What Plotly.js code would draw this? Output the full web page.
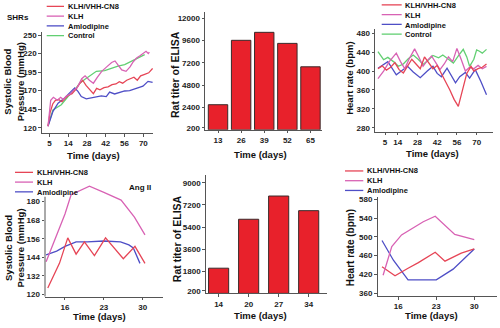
<!DOCTYPE html>
<html>
<head>
<meta charset="utf-8">
<script src="https://cdn.plot.ly/plotly-3.0.1.min.js"></script>
<style>html,body{margin:0;padding:0;background:#fff;}#chart{width:500px;height:328px;}</style>
</head>
<body>
<div id="chart"></div>
<script>
// ---------- series names / colours ----------
const seriesNames = ['KLH/VHH-CN8', 'KLH', 'Amlodipine', 'Control'];
const seriesColors = ['#e64556', '#d862b4', '#4e4ec6', '#62cf72'];

// ---------- Panel 1: SHRs systolic blood pressure (axis positions) ----------
const shrSbpXTickVals = [0, 14, 28, 42, 56, 70];
const shrSbpXTickText = ['5', '14', '28', '42', '56', '70'];
const shrSbpYTickVals = [120, 145, 170, 195, 220, 245];
const shrSbpYTickText = ['120', '145', '170', '195', '220', '250'];
const shrSbpCn8X = [-1, 0.5, 2.5, 4.5, 6.9, 9.4, 11.9, 14.4, 16.9, 19.9, 22.8, 24.8, 27.3, 29.8, 32.8, 35.2, 37.7, 40.7, 43.7, 46.7, 49.6, 52.1, 54.6, 57.6, 60.6, 63, 65.5, 68, 71, 74, 76.9];
const shrSbpCn8Y = [122, 140, 152, 157, 158, 155, 160, 164, 166, 172, 180, 184, 177, 172, 166, 173, 171, 174, 175, 178, 179, 182, 180, 184, 186, 188, 184, 190, 192, 194, 200];
const shrSbpKlhX = [-1, 1, 3, 6, 8.4, 10.4, 12.9, 15.4, 18.4, 20.8, 24.1, 26.6, 29.8, 32.8, 35.7, 39, 42.7, 46.4, 48.9, 51.4, 53.9, 57.1, 60.1, 62.5, 65, 67.5, 70, 72, 73.7, 74.5];
const shrSbpKlhY = [122, 157, 161, 157, 161, 158, 163, 165, 171, 174, 186, 190, 184, 180, 188, 196, 202, 208, 210, 204, 198, 196, 202, 209, 214, 217, 221, 223, 220, 222];
const shrSbpAmlX = [-1, 2.7, 6.5, 11.4, 15.1, 18.9, 21.3, 23.8, 27.5, 31.3, 35, 38.7, 42.4, 44.9, 48.6, 52.4, 56.1, 59.8, 63.5, 67.3, 69.7, 73.5, 76.9];
const shrSbpAmlY = [122, 142, 153, 160, 167, 173.5, 169, 162, 159, 160.5, 161, 163, 162, 168, 165.5, 168, 169.5, 170, 172.5, 174.5, 176, 182.5, 181];
const shrSbpCtlX = [-1, 2.7, 8.9, 13.9, 18.9, 22.6, 26.3, 31.3, 35, 41.2, 46.2, 51.1, 56.1, 61.1, 66, 71];
const shrSbpCtlY = [123, 144, 151, 162, 171, 180, 185, 191.5, 196, 197, 200.5, 203, 205, 209.5, 214, 218.5];

// ---------- Panel 2: SHRs ELISA titer ----------
const shrTiterDays = ['13', '26', '39', '52', '65'];
const shrTiter = [2700, 9630, 10490, 9300, 6780];
const shrTiterTickVals = [200, 2400, 4800, 7200, 9600, 12000];
const shrTiterTickText = ['200', '2400', '4800', '7200', '9600', '12000'];

// ---------- Panel 3: SHRs heart rate ----------
const shrHrXTickVals = [5, 14, 28, 42, 56, 70];
const shrHrYTickVals = [280, 320, 360, 400, 440, 480];
const shrHrCn8X = [0, 3, 6, 9, 12, 15, 18, 21, 24, 27, 30, 33, 36, 39, 42, 45, 48, 51, 54, 57, 60, 63, 66, 68, 71, 74, 77];
const shrHrCn8Y = [405, 411, 402, 408, 418, 403, 396, 412, 425, 415, 405, 430, 418, 405, 412, 395, 380, 360, 340, 325, 360, 395, 410, 400, 405, 408, 415];
const shrHrKlhX = [0, 4, 8, 13, 16, 19, 22, 26, 29, 32, 35, 38, 41, 44, 47, 50, 53, 56, 59, 62, 65, 68, 71, 74, 77];
const shrHrKlhY = [384, 400, 420, 438, 420, 405, 425, 447, 430, 410, 422, 432, 418, 403, 415, 430, 420, 448, 425, 400, 408, 405, 412, 405, 410];
const shrHrAmlX = [0, 7, 13, 17, 21, 25, 30, 35, 39, 42, 45, 49, 52, 55, 58, 62, 65, 69, 73, 77];
const shrHrAmlY = [406, 420, 392, 402, 410, 398, 386, 400, 410, 395, 388, 406, 390, 375, 388, 397, 385, 403, 378, 350];
const shrHrCtlX = [0, 4, 7, 11, 14.5, 18, 21.5, 25, 28.5, 32, 36, 39, 43, 46, 50, 53.5, 57, 60.5, 63, 65, 68, 70, 72, 74, 77];
const shrHrCtlY = [441, 424, 429, 420, 410, 415, 426, 434, 425, 414, 424, 433, 428, 434, 425, 417, 432, 446, 430, 410, 425, 445, 442, 438, 446];

// ---------- Panel 4: Ang II systolic blood pressure ----------
const angSbpXTickVals = [16, 23, 30];
const angSbpYTickVals = [120, 132, 144, 156, 168, 180];
const angSbpCn8X = [12.9, 15, 16.5, 18, 19.5, 21.3, 23.3, 24.8, 26.5, 28.6, 30.4];
const angSbpCn8Y = [124, 140, 156.5, 146, 154, 145, 156.5, 150, 143, 151, 140];
const angSbpKlhX = [12.6, 16, 17.1, 20.4, 23, 26.1, 28.5, 30.4];
const angSbpKlhY = [141, 172, 184.5, 190, 186, 181, 170, 158.5];
const angSbpAmlX = [12.6, 14.5, 16, 18, 20, 23, 26, 27.5, 28.3, 29.5];
const angSbpAmlY = [145.5, 148, 151, 154, 154, 154.5, 154, 152, 150, 140];

// ---------- Panel 5: Ang II ELISA titer ----------
const angTiterDays = ['14', '20', '27', '34'];
const angTiter = [2050, 6030, 7920, 6730];
const angTiterTickVals = [200, 1800, 3600, 5400, 7200, 9000];
const angTiterTickText = ['200', '1800', '3600', '5400', '7200', '9000'];

// ---------- Panel 6: Ang II heart rate ----------
const angHrXTickVals = [16, 23, 30];
const angHrYTickVals = [380, 420, 460, 500, 540, 580];
const angHrYTickText = ['360', '420', '460', '500', '540', '580'];
const angHrCn8X = [13, 15.4, 17.8, 19.7, 22.8, 24.6, 27.6, 30];
const angHrCn8Y = [436, 417, 433, 445, 467, 448, 465, 474];
const angHrKlhX = [13.2, 14.8, 16.6, 20.6, 22.8, 26.4, 30];
const angHrKlhY = [418, 479, 504, 532, 544, 505, 494];
const angHrAmlX = [13, 15.1, 17.8, 23, 26.1, 30];
const angHrAmlY = [492, 450, 408, 408, 431, 474];

// ---------- titles ----------
const xTitleText = 'Time (days)';
const sbpTitleText = 'Systolic Blood<br>Pressure (mmHg)';
const titerTitleText = 'Rat titer of ELISA';
const hrTitleText = 'Heart rate (bpm)';

// ---------- helpers ----------
const W = 500, H = 328;
const FONT = 'Liberation Sans, Arial, sans-serif';
const dxp = (a, b) => [a / W, b / W];
const dyp = (top, bottom) => [1 - bottom / H, 1 - top / H];
const px = v => v / W;
const py = v => 1 - v / H;

function line(x, y, idx, xa, ya) {
  return {type: 'scatter', mode: 'lines', x: x, y: y, name: seriesNames[idx],
    xaxis: xa, yaxis: ya, showlegend: false,
    line: {color: seriesColors[idx], width: 1.3}, hoverinfo: 'skip'};
}
function bars(x, y, xa, ya, w) {
  return {type: 'bar', x: x, y: y, xaxis: xa, yaxis: ya, showlegend: false, width: w,
    marker: {color: '#e8212b', line: {color: '#3a2a2a', width: 1}}, hoverinfo: 'skip'};
}

const traces = [
  line(shrSbpCtlX, shrSbpCtlY, 3, 'x', 'y'),
  line(shrSbpAmlX, shrSbpAmlY, 2, 'x', 'y'),
  line(shrSbpCn8X, shrSbpCn8Y, 0, 'x', 'y'),
  line(shrSbpKlhX, shrSbpKlhY, 1, 'x', 'y'),
  bars(shrTiterDays, shrTiter, 'x2', 'y2', 0.84),
  line(shrHrCtlX, shrHrCtlY, 3, 'x3', 'y3'),
  line(shrHrAmlX, shrHrAmlY, 2, 'x3', 'y3'),
  line(shrHrKlhX, shrHrKlhY, 1, 'x3', 'y3'),
  line(shrHrCn8X, shrHrCn8Y, 0, 'x3', 'y3'),
  line(angSbpAmlX, angSbpAmlY, 2, 'x4', 'y4'),
  line(angSbpCn8X, angSbpCn8Y, 0, 'x4', 'y4'),
  line(angSbpKlhX, angSbpKlhY, 1, 'x4', 'y4'),
  bars(angTiterDays, angTiter, 'x5', 'y5', 0.67),
  line(angHrAmlX, angHrAmlY, 2, 'x6', 'y6'),
  line(angHrCn8X, angHrCn8Y, 0, 'x6', 'y6'),
  line(angHrKlhX, angHrKlhY, 1, 'x6', 'y6')
];

const tickFont = {family: FONT, size: 8, color: '#222', weight: 'bold'};
function ax(extra) {
  return Object.assign({
    showline: true, linecolor: '#555', linewidth: 1, mirror: false,
    ticks: 'outside', ticklen: 2.5, tickcolor: '#555', tickwidth: 1,
    showgrid: false, zeroline: false, tickfont: tickFont, fixedrange: true,
    automargin: false
  }, extra);
}

const layout = {
  width: W, height: H,
  margin: {l: 0, r: 0, t: 0, b: 0},
  paper_bgcolor: '#fff', plot_bgcolor: '#fff',
  showlegend: false,
  xaxis: ax({domain: dxp(41.7, 153), range: [-5.7, 77.2], tickmode: 'array', tickvals: shrSbpXTickVals, ticktext: shrSbpXTickText, anchor: 'y'}),
  yaxis: ax({domain: dyp(31.7, 133.3), range: [112.45, 249.45], tickmode: 'array', tickvals: shrSbpYTickVals, ticktext: shrSbpYTickText, anchor: 'x'}),
  xaxis2: ax({domain: dxp(205, 321.8), type: 'category', range: [-0.563, 4.49], anchor: 'y2'}),
  yaxis2: ax({domain: dyp(11.7, 129.8), range: [0, 12710], tickmode: 'array', tickvals: shrTiterTickVals, ticktext: shrTiterTickText, anchor: 'x2'}),
  xaxis3: ax({domain: dxp(375, 493), range: [-2.1, 81.6], tickmode: 'array', tickvals: shrHrXTickVals, anchor: 'y3'}),
  yaxis3: ax({domain: dyp(29.3, 131.7), range: [271.5, 488.5], tickmode: 'array', tickvals: shrHrYTickVals, anchor: 'x3'}),
  xaxis4: ax({domain: dxp(45, 163.3), range: [12.4, 33.7], tickmode: 'array', tickvals: angSbpXTickVals, anchor: 'y4'}),
  yaxis4: ax({domain: dyp(184.7, 296.7), range: [118.4, 191], tickmode: 'array', tickvals: angSbpYTickVals, anchor: 'x4', showline: false}),
  xaxis5: ax({domain: dxp(205.7, 326.7), type: 'category', range: [-0.43, 3.6], anchor: 'y5'}),
  yaxis5: ax({domain: dyp(175, 293.4), range: [0, 9630], tickmode: 'array', tickvals: angTiterTickVals, ticktext: angTiterTickText, anchor: 'x5'}),
  xaxis6: ax({domain: dxp(377.5, 496.7), range: [12.17, 34.13], tickmode: 'array', tickvals: angHrXTickVals, anchor: 'y6'}),
  yaxis6: ax({domain: dyp(196.7, 296), range: [373.7, 585.5], tickmode: 'array', tickvals: angHrYTickVals, ticktext: angHrYTickText, anchor: 'x6'}),
  shapes: [],
  annotations: []
};

// y axis line of panel 4 (only up to the top tick region, as in the original)
layout.shapes.push({type: 'line', xref: 'paper', yref: 'y4', x0: px(45), x1: px(45), y0: 118.4, y1: 183.2,
  line: {color: '#555', width: 1}});

// axis titles (placed as text so their position is exact)
function title(text, x, y, size, rot) {
  layout.annotations.push({xref: 'paper', yref: 'paper', x: px(x), y: py(y), text: text, showarrow: false,
    xanchor: 'center', yanchor: 'middle', textangle: rot ? -90 : 0, borderpad: 0,
    font: {family: FONT, size: size, color: '#111', weight: 'bold'}});
}
title(xTitleText, 93, 155, 9.5, false);
title(xTitleText, 260, 154, 9.5, false);
title(xTitleText, 432.5, 153.3, 9.5, false);
title(xTitleText, 99, 316, 9.5, false);
title(xTitleText, 260, 315, 9.5, false);
title(xTitleText, 431.7, 315, 9.5, false);
title(sbpTitleText, 13.3, 82, 9.5, true);
title(titerTitleText, 175, 75, 10.5, true);
title(hrTitleText, 349.3, 78.5, 9.5, true);
title(sbpTitleText, 13.6, 248, 9.5, true);
title(titerTitleText, 176.7, 238.5, 10.5, true);
title(hrTitleText, 350.7, 247.5, 10, true);

// compact legends: one text block per panel, key lines aligned to its rows
const LEG_SIZE = 7.5, LEG_STEP = LEG_SIZE * 1.3;
const legFont = {family: FONT, size: LEG_SIZE, color: '#111', weight: 'bold'};
function legend(idxs, x0, x1, tx, cy) {
  const n = idxs.length;
  idxs.forEach((k, i) => {
    const yy = cy + (i - (n - 1) / 2) * LEG_STEP;
    layout.shapes.push({type: 'line', xref: 'paper', yref: 'paper', x0: px(x0), x1: px(x1), y0: py(yy), y1: py(yy),
      line: {color: seriesColors[k], width: 1.3}});
  });
  layout.annotations.push({xref: 'paper', yref: 'paper', x: px(tx), y: py(cy), xanchor: 'left', yanchor: 'middle',
    align: 'left', text: idxs.map(k => seriesNames[k]).join('<br>'), showarrow: false, borderpad: 0, font: legFont});
}
legend([0, 1, 2, 3], 46.7, 64, 66.7, 21);
legend([0, 1, 2, 3], 381.7, 401.7, 404, 19.5);
legend([0, 1, 2], 15, 33, 36, 182.1);
legend([0, 1, 2], 345, 363.3, 366, 180.7);

layout.annotations.push({xref: 'paper', yref: 'paper', x: px(18.3), y: py(17), text: 'SHRs', showarrow: false,
  xanchor: 'center', yanchor: 'middle', borderpad: 0, font: {family: FONT, size: 8, color: '#111', weight: 'bold'}});
layout.annotations.push({xref: 'paper', yref: 'paper', x: px(140), y: py(188), text: 'Ang II', showarrow: false,
  xanchor: 'center', yanchor: 'middle', borderpad: 0, font: {family: FONT, size: 8, color: '#111', weight: 'bold'}});

Plotly.newPlot('chart', traces, layout, {staticPlot: true, displayModeBar: false});
</script>
</body>
</html>
